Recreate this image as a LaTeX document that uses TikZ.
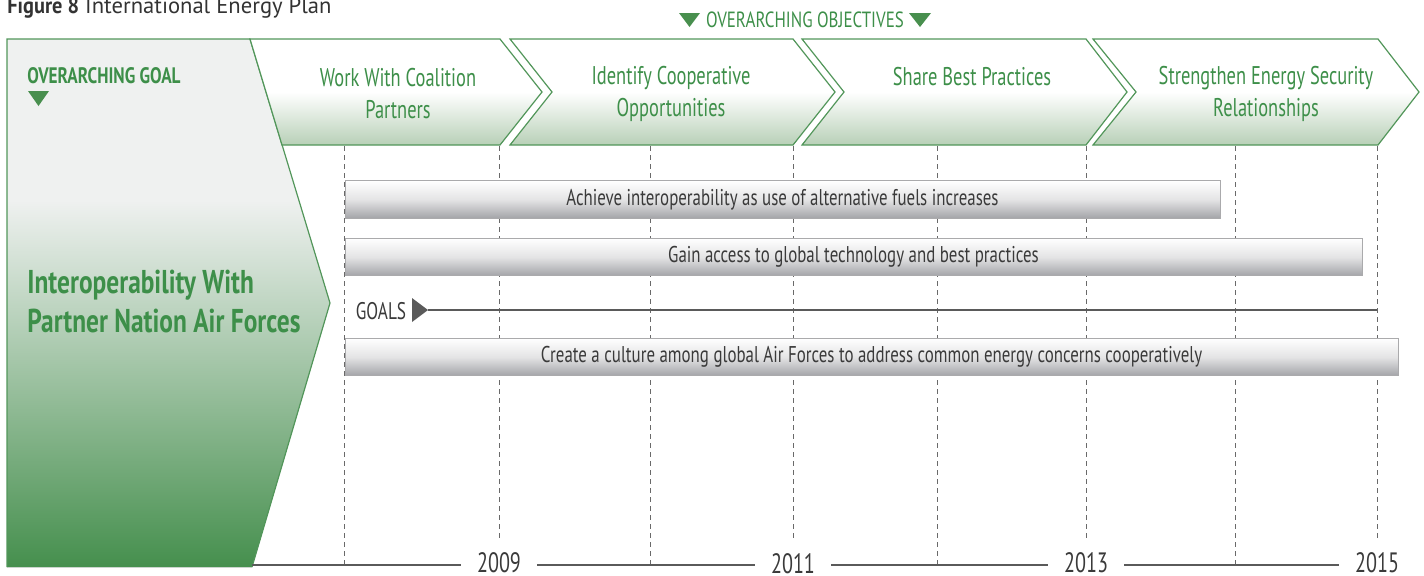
\documentclass[tikz,border=0pt]{standalone}
\usepackage{fontspec}
\setmainfont{PT Sans}
\newfontfamily\cond[FakeStretch=0.72]{PT Sans}
\newfontfamily\condbar[FakeStretch=0.74]{PT Sans}
\newfontfamily\condhdr[FakeStretch=0.77]{PT Sans}
\newfontfamily\titlebold[FakeStretch=0.9]{PT Sans Bold}
\definecolor{gtext}{RGB}{61,143,73}
\definecolor{gtri}{RGB}{72,143,78}
\definecolor{cstroke}{RGB}{82,150,90}
\definecolor{chevbot}{RGB}{184,208,183}
\definecolor{ptop}{RGB}{239,241,240}
\definecolor{pbot}{RGB}{69,143,77}
\definecolor{bartext}{RGB}{58,58,58}
\definecolor{barmid}{RGB}{228,228,229}
\definecolor{barbot}{RGB}{163,164,168}
\definecolor{barborder}{RGB}{170,170,172}
\definecolor{gridc}{RGB}{105,105,105}
\definecolor{axisc}{RGB}{90,90,90}
\definecolor{titlec}{RGB}{51,51,51}
\tikzset{
  chev/.style={draw=cstroke, line width=0.6pt, top color=white, bottom color=chevbot, middle color=white},
  chevtxt/.style={text=gtext, font=\cond\fontsize{12.8}{16}\selectfont, align=center, inner sep=0pt},
  bar/.style={draw=barborder, line width=0.5pt, top color=white, bottom color=barbot, middle color=barmid,
    font=\condbar\fontsize{11.4}{13}\selectfont, text=bartext, inner sep=0pt, minimum height=18.75pt},
  gridline/.style={draw=gridc, dash pattern=on 2.5pt off 2pt, line width=0.5pt},
  yearlbl/.style={font=\cond\fontsize{14}{16}\selectfont, text=bartext, inner ysep=0pt, inner xsep=8pt},
  axisline/.style={draw=axisc, line width=0.8pt},
}
\begin{document}
\begin{tikzpicture}[x=0.5pt,y=-0.5pt]
\useasboundingbox (0,0) rectangle (1424,575);

% title
\node[anchor=base west, inner sep=0pt, text=titlec, font=\fontsize{11.3}{13}\selectfont] (title) at (7,13) {{\titlebold Figure 8} International Energy Plan};

% objectives header
\node[text=gtext, font=\condhdr\fontsize{11}{13}\selectfont, inner sep=0pt] (objhdr) at (805,20) {OVERARCHING OBJECTIVES};
\fill[gtri] (679,13) -- (700,13) -- (689.5,27) -- cycle;
\fill[gtri] (909,13) -- (931,13) -- (920,27) -- cycle;

% left panel
\begin{scope}
\clip (7,39) -- (250,39) -- (330,303) -- (252,567) -- (7,567) -- cycle;
\fill[ptop] (0,30) rectangle (340,201);
\fill[top color=ptop, bottom color=pbot] (0,200) rectangle (340,568);
\end{scope}
\draw[cstroke, line width=0.6pt] (252,567) -- (330,303) -- (250,39) -- (7,39) -- (7,567);

\node[anchor=west, inner sep=0pt, text=gtext, font=\condhdr\bfseries\fontsize{11.2}{13}\selectfont] (goalhdr) at (27,76) {OVERARCHING GOAL};
\fill[gtri] (28,91) -- (49,91) -- (38.5,106) -- cycle;
\node[anchor=west, inner sep=0pt, align=left, text=gtext, font=\condhdr\bfseries\fontsize{16.5}{19.5}\selectfont] (goal) at (27,301) {Interoperability With\\Partner Nation Air Forces};

% chevrons
\path[chev] (250,39) -- (500,39) -- (542,92) -- (500,145) -- (282,145) -- cycle;
\path[chev] (510,39) -- (793,39) -- (835,92) -- (793,145) -- (510,145) -- (552,92) -- cycle;
\path[chev] (802,39) -- (1086,39) -- (1127,92) -- (1086,145) -- (802,145) -- (844,92) -- cycle;
\path[chev] (1093,39) -- (1378,39) -- (1419,92) -- (1378,145) -- (1093,145) -- (1136,92) -- cycle;

\node[chevtxt] (o1) at (398,94) {Work With Coalition\\Partners};
\node[chevtxt] (o2) at (671,94) {Identify Cooperative\\Opportunities};
\node[chevtxt] (o3) at (972,77) {Share Best Practices};
\node[chevtxt] (o4) at (1266,94) {Strengthen Energy Security\\Relationships};

% grid lines
\foreach \gx/\gy in {344/565, 499/540, 650/565, 793/540, 937/565, 1086/540, 1235/565, 1377/540}
  \draw[gridline] (\gx,146) -- (\gx,\gy);

% bars
\node[bar, minimum width=437.5pt] (b1) at (782.5,199.5) {Achieve interoperability as use of alternative fuels increases};
\node[bar, minimum width=508.5pt] (b2) at (853.5,257) {Gain access to global technology and best practices};
\node[bar, minimum width=526.5pt] (b3) at (871.5,357) {Create a culture among global Air Forces to address common energy concerns cooperatively};

% goals line
\node[text=bartext, font=\cond\fontsize{12}{14}\selectfont, inner sep=0pt] (goals) at (381,311) {GOALS};
\fill[axisc] (412,298) -- (428,310) -- (412,322) -- cycle;
\coordinate (gtip) at (428,310);
\coordinate (gend) at (1377,310);
\draw[draw=axisc, line width=0.6pt] (gtip) -- (gend);

% time axis
\coordinate (axstart) at (252,565);
\node[yearlbl] (y2009) at (499,563) {2009};
\node[yearlbl] (y2011) at (793,564) {2011};
\node[yearlbl] (y2013) at (1086,563) {2013};
\node[yearlbl] (y2015) at (1377,563) {2015};
\draw[axisline] (axstart) -- (y2009.west |- axstart);
\draw[axisline] (y2009.east |- axstart) -- (y2011.west |- axstart);
\draw[axisline] (y2011.east |- axstart) -- (y2013.west |- axstart);
\draw[axisline] (y2013.east |- axstart) -- (y2015.west |- axstart);
\end{tikzpicture}
\end{document}
